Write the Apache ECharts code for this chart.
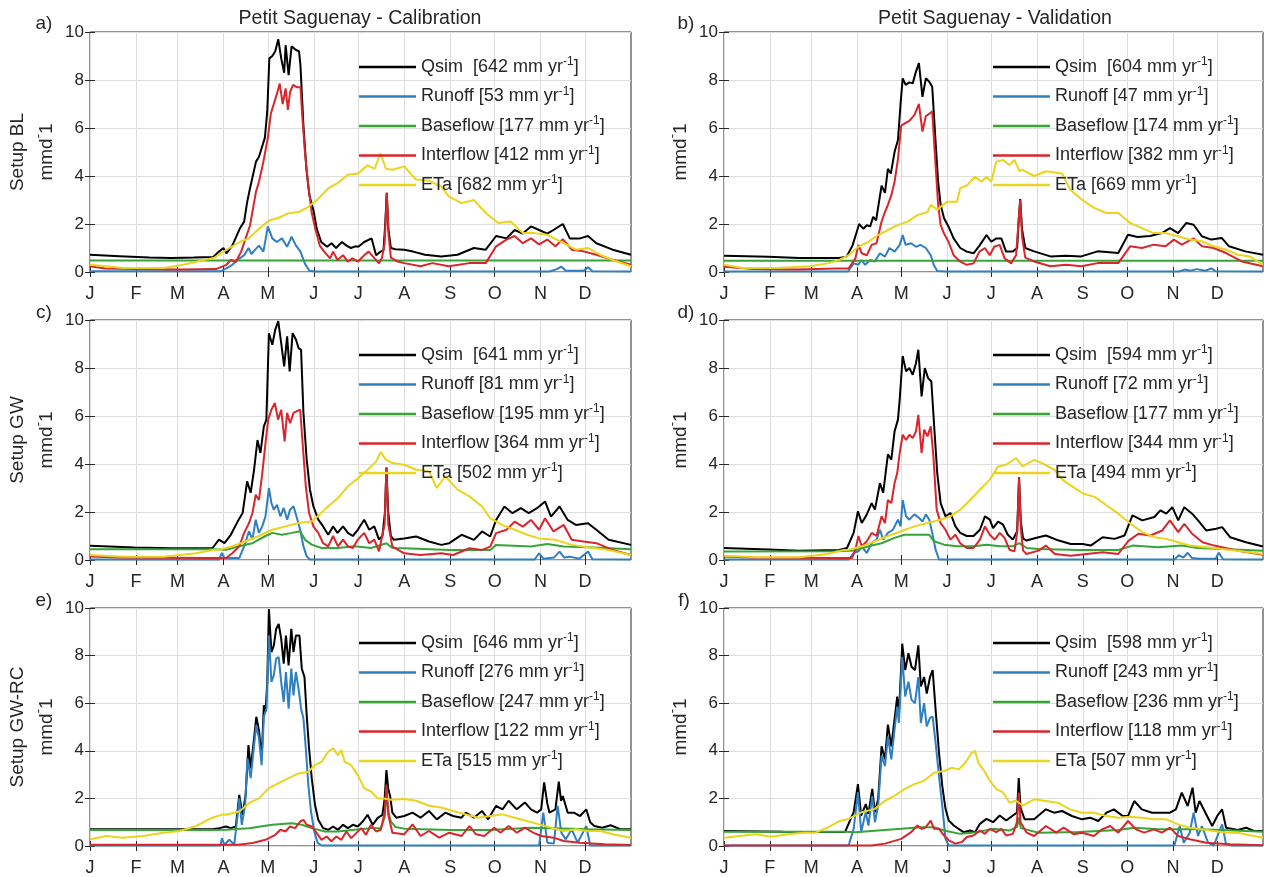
<!DOCTYPE html>
<html><head><meta charset="utf-8">
<script src="https://cdn.jsdelivr.net/npm/echarts@6/dist/echarts.min.js"></script>
<style>html,body{margin:0;padding:0;background:#fff}#c{width:1264px;height:877px}</style>
</head><body><div id="c"></div>
<script>
// ---------- axis / label data ----------
const months = ['J','F','M','A','M','J','J','A','S','O','N','D'];
const monthStarts = [0,31,59,90,120,151,181,212,243,273,304,334];
const componentNames = ['Qsim','Runoff','Baseflow','Interflow','ETa'];
const componentLabels = ['Qsim  ','Runoff ','Baseflow ','Interflow ','ETa '];
const panelLetters = ['a)','b)','c)','d)','e)','f)'];
const columnTitles = ['Petit Saguenay - Calibration','Petit Saguenay - Validation'];
const setupNames = ['Setup BL','Setup GW','Setup GW-RC'];

const totalsA = [642,53,177,412,682];
const totalsB = [604,47,174,382,669];
const totalsC = [641,81,195,364,502];
const totalsD = [594,72,177,344,494];
const totalsE = [646,276,247,122,515];
const totalsF = [598,243,236,118,507];

// ---------- series data: [day of year, mm/d] ----------
const qsimA = [[0,0.72],[20,0.66],[40,0.6],[55,0.58],[70,0.6],[83,0.62],[87,0.85],[90,1.0],[92,0.78],[96,1.1],[101,1.8],[104,2.1],[106,2.9],[108,3.5],[112,4.6],[114,4.8],[116,5.2],[118,5.6],[119.6,6.7],[121,8.9],[123,9.0],[125,9.2],[127,9.7],[129,8.9],[131,8.3],[132,9.45],[134,8.2],[136,9.4],[137,9.45],[139,9.25],[141,9.2],[142,8.6],[144,6.1],[146,4.3],[148,3.2],[151,2.5],[153,1.8],[156,1.25],[160,1.05],[163,1.2],[166,1.0],[170,1.25],[173,1.1],[176,1.0],[179,1.07],[181,1.05],[185,1.25],[190,1.4],[193,0.7],[196,0.85],[198,0.9],[199.2,2.0],[200.2,3.3],[201.3,1.8],[203,1.0],[206,0.95],[212,0.93],[218,0.85],[226,0.72],[237,0.65],[248,0.72],[259,1.0],[267,0.93],[274,1.5],[281,1.4],[286.5,1.75],[292,1.6],[297.5,1.9],[303,1.75],[308.5,1.6],[312.7,1.75],[319,2.0],[323.7,1.4],[330.6,1.4],[336,1.5],[341.6,1.2],[352.6,0.93],[365,0.72]];
const runoffA = [[0,0.03],[88,0.03],[92,0.15],[96,0.3],[101,0.57],[104,0.7],[107,1.0],[109,0.75],[111,0.9],[114,1.1],[117,0.85],[120,1.9],[123,1.4],[126,1.25],[129.5,1.4],[133,1.05],[136,1.47],[139,1.1],[142,0.85],[145,0.35],[148,0.05],[152,0.02],[310,0.02],[315,0.12],[318,0.22],[321,0.05],[333,0.05],[336,0.2],[339,0.03],[365,0.02]];
const baseA = [[0,0.48],[365,0.48]];
const interA = [[0,0.24],[10,0.15],[30,0.12],[60,0.1],[85,0.12],[92,0.3],[95,0.5],[98.4,0.43],[102,0.85],[105,1.4],[108,1.95],[112,3.35],[114,3.76],[117,4.6],[120,5.6],[122,6.6],[124,7.0],[126,7.4],[128,7.85],[130,7.0],[132,7.65],[133.5,6.75],[135,7.5],[137,7.8],[139.5,7.7],[142,7.7],[143,6.7],[145,5.0],[147,3.76],[149.5,2.5],[152,1.8],[155,1.1],[158,0.85],[162,0.57],[164,0.85],[167,0.5],[170.7,0.7],[174,0.43],[177,0.57],[180.7,0.43],[185,0.7],[188,0.85],[192,0.57],[195,0.36],[197,0.6],[198.8,1.2],[200.2,3.3],[201.5,1.5],[203,0.6],[207,0.45],[212,0.37],[223,0.24],[231,0.37],[242,0.24],[256,0.37],[267,0.37],[274,1.07],[281,1.35],[286.5,1.5],[292,1.2],[297.5,1.4],[303,1.15],[308.5,1.35],[314,1.07],[319,1.37],[325,0.93],[333,0.86],[341.6,0.72],[352.6,0.51],[365,0.3]];
const etA = [[0,0.3],[11,0.24],[22,0.17],[50,0.17],[63,0.3],[77,0.5],[84,0.6],[90,0.85],[101,1.25],[107,1.4],[114,1.8],[121,2.15],[127,2.25],[134,2.45],[141,2.5],[147,2.7],[154,3.05],[161,3.5],[167,3.7],[174,4.05],[181,4.1],[187,4.45],[192,4.3],[196,4.95],[199.6,4.3],[204,4.26],[212,4.4],[220,3.85],[228.7,3.8],[237,3.57],[242,3.15],[250.7,2.87],[259,3.0],[267,2.46],[275.5,2.04],[283.8,2.1],[292,1.62],[300,1.62],[308.5,1.55],[319.6,1.2],[327.8,0.93],[336,1.0],[344,0.72],[352.6,0.5],[365,0.24]];

const qsimB = [[0,0.68],[30,0.64],[51,0.58],[78,0.58],[83,0.64],[87,1.1],[90,1.7],[91.5,2.0],[94.4,1.8],[96.7,1.95],[99,1.9],[101,2.3],[103,2.15],[106.7,3.6],[109,3.3],[111,4.3],[113,4.1],[115.5,5.0],[117.8,5.5],[119.5,6.95],[121,8.07],[123,7.8],[125.5,7.9],[127.8,7.86],[130,8.35],[132,8.7],[134.4,7.3],[136.7,8.07],[139,7.93],[141,7.72],[143,5.7],[145,3.76],[146.7,2.8],[149,2.24],[152,1.9],[155.5,1.4],[160,1.0],[164.4,0.85],[169,0.78],[173,1.1],[177.8,1.54],[181,1.26],[184.4,1.4],[187.8,1.4],[191,0.85],[195.5,0.85],[198.5,1.0],[199.6,2.2],[200.6,3.04],[201.8,1.8],[204,1.0],[210,0.86],[221,0.65],[231.6,0.68],[242,0.65],[253,0.86],[267,0.79],[273.6,1.55],[280,1.46],[288.5,1.5],[296.5,1.62],[302,1.83],[307.5,1.62],[313,2.04],[318,1.97],[323.6,1.49],[330,1.35],[337,1.42],[342,1.07],[353,0.86],[365,0.72]];
const runoffB = [[0,0.02],[84,0.02],[87.8,0.36],[91,0.3],[93,0.5],[95.6,0.3],[99,0.5],[102,0.43],[105.6,0.78],[109,0.64],[112,1.0],[115.5,0.85],[119,1.13],[121,1.54],[123,1.13],[126.7,1.2],[130,1.05],[133,1.13],[136.7,1.0],[140,0.7],[142,0.3],[144.4,0.04],[150,0.02],[308,0.02],[312,0.1],[316,0.05],[320,0.12],[326,0.05],[330,0.15],[333,0.03],[365,0.02]];
const baseB = [[0,0.47],[365,0.47]];
const interB = [[0,0.22],[20,0.12],[50,0.1],[75.6,0.15],[84.4,0.15],[89,0.57],[91,1.13],[93.3,0.78],[96.7,0.7],[100,1.13],[103.3,1.2],[106.7,2.1],[109,2.5],[111,2.8],[113.3,3.2],[115.5,3.76],[117.8,4.7],[120,6.1],[122.7,6.2],[125.5,6.3],[129,6.55],[132,7.0],[134.4,5.85],[136.7,6.5],[139.3,6.6],[141,6.7],[143,4.7],[145,2.8],[146.7,1.96],[149,1.6],[152,1.26],[155.5,0.7],[160,0.43],[164.4,0.3],[169,0.36],[173,0.85],[176.7,1.0],[180,0.7],[183,1.05],[186.7,1.13],[190,0.57],[194.4,0.36],[197.8,0.7],[199.6,2.2],[200.6,3.0],[201.8,1.5],[204,0.6],[210,0.44],[221,0.24],[231.6,0.3],[242,0.24],[253,0.37],[267,0.37],[275,1.07],[283,1.0],[291,1.14],[299,1.07],[304.6,1.35],[310,1.14],[318,1.4],[323.6,1.07],[331.5,1.0],[340,0.79],[350.6,0.44],[365,0.24]];
const etB = [[0,0.3],[12.6,0.17],[36.6,0.17],[58,0.24],[71,0.37],[78,0.5],[84.4,0.7],[91,1.05],[97.8,1.26],[104.4,1.54],[111,1.75],[117.8,1.96],[124.4,2.1],[131,2.37],[137.8,2.5],[140,2.8],[144.4,2.6],[151,2.93],[157.8,2.93],[160,3.5],[164.4,3.6],[170,3.97],[174.4,3.76],[177.8,3.97],[181,3.76],[184.4,4.6],[189,4.67],[193.3,4.46],[196.7,4.67],[200,4.2],[202,4.26],[210,4.0],[218,4.2],[229,4.1],[234.5,3.43],[242.6,3.0],[250.7,2.67],[258.8,2.46],[267,2.46],[275,2.04],[283,1.83],[291,1.62],[299,1.62],[307.5,1.49],[315.6,1.35],[323.6,1.28],[331.6,1.07],[340,0.93],[348,0.72],[356,0.65],[365,0.3]];

const qsimC = [[0,0.59],[30,0.52],[55,0.49],[82.6,0.49],[87,0.85],[90.7,0.7],[95,1.05],[99.6,1.6],[103,1.96],[106,3.28],[108.4,2.8],[110.7,3.76],[113,5.0],[115,4.46],[117.3,5.57],[119,5.85],[120.7,9.45],[123,8.97],[125,9.6],[127,9.95],[129,9.04],[131,8.07],[133,9.32],[134.7,7.86],[136.7,9.45],[139,9.18],[140.7,8.83],[142.4,8.76],[144,6.13],[146.2,4.18],[148.4,2.93],[150.7,2.24],[154,1.68],[157.3,1.4],[160.7,1.05],[164,1.4],[167,1.13],[170.7,1.4],[174,1.13],[177.3,1.0],[180.7,1.26],[185,1.68],[188.4,1.26],[191.8,1.4],[195,0.85],[197.3,1.0],[199,2.0],[200,3.85],[201.2,2.0],[203,1.0],[205,0.84],[212,0.9],[220,0.98],[228.7,0.77],[237,0.63],[242.4,0.7],[250.7,1.05],[259,0.84],[264.5,1.19],[270,0.98],[274,1.67],[279.6,2.23],[285,1.95],[290.7,2.16],[296,1.95],[301.6,2.16],[307,2.44],[311,1.81],[316.8,2.23],[322.3,1.67],[327.8,1.46],[336,1.53],[341.6,1.26],[349.9,0.84],[365,0.63]];
const runoffC = [[0,0.02],[87,0.02],[89,0.29],[90.7,0.08],[100.7,0.08],[104,0.57],[107.3,1.2],[109.6,0.85],[111.8,1.68],[114,1.13],[116.2,1.4],[118.4,1.82],[120.7,3.0],[122.4,2.37],[124,2.1],[126.2,2.3],[128.4,1.82],[130.7,2.17],[133,1.68],[135,2.1],[137.3,2.24],[139.6,1.75],[141.8,1.26],[144,0.57],[146.2,0.15],[148.4,0.02],[300,0.02],[303,0.28],[306,0.05],[313,0.1],[316.8,0.35],[320,0.1],[323.7,0.14],[330,0.05],[336,0.35],[339,0.03],[365,0.02]];
const baseC = [[0,0.45],[82.6,0.45],[91.8,0.43],[100.7,0.57],[109.6,0.7],[118.4,1.0],[123,1.13],[129.6,1.05],[136.2,1.13],[141.8,1.2],[145,0.85],[149.6,0.64],[156.2,0.5],[167.3,0.5],[178.4,0.57],[189.6,0.5],[200,0.7],[204,0.5],[212,0.49],[242.4,0.42],[270,0.42],[274,0.63],[297.5,0.56],[308.5,0.67],[319.6,0.56],[336,0.53],[365,0.45]];
const interC = [[0,0.15],[20,0.1],[78.4,0.08],[91.8,0.08],[96.2,0.29],[100.7,0.57],[104,1.13],[107.3,1.54],[109.6,1.96],[111.8,2.72],[114,2.5],[116.2,3.6],[118.4,4.87],[120.2,5.85],[122.4,6.26],[124.7,6.54],[126.9,5.85],[129,6.26],[131.3,4.94],[133,6.13],[135,5.7],[137.3,6.13],[139.6,6.2],[141.8,6.26],[143.6,4.74],[145.6,3.07],[147.8,1.96],[150.7,1.4],[154,1.13],[157.3,0.7],[160.7,0.57],[164,1.0],[167.3,0.57],[170.7,0.85],[174,0.57],[177.3,0.5],[180.7,0.85],[185,1.13],[188.4,0.7],[191.8,0.85],[195,0.36],[198.8,1.5],[200,3.85],[201.2,1.5],[204,0.56],[212,0.28],[223,0.21],[237,0.28],[245,0.21],[256,0.49],[264.5,0.42],[270,0.56],[274,1.12],[281,1.26],[286.5,1.6],[292,1.39],[297.5,1.67],[303,1.26],[307,1.74],[312.7,1.19],[319.6,1.46],[325,0.84],[333,0.77],[341.6,0.7],[352.6,0.42],[365,0.21]];
const etC = [[0,0.21],[22,0.14],[50,0.14],[71.6,0.28],[82.6,0.42],[87,0.43],[96.2,0.57],[105,0.78],[114,1.0],[123,1.26],[131.8,1.4],[140.7,1.54],[149.6,1.6],[155,1.9],[160.7,2.24],[167.3,2.58],[174,3.07],[180.7,3.4],[187.3,3.76],[193,4.1],[196.2,4.5],[199.6,4.18],[204,4.04],[212,3.97],[220,3.76],[228.7,3.7],[234,3.0],[239.7,3.49],[248,2.93],[256,2.65],[264.5,2.23],[270,1.74],[278,1.46],[286.5,1.26],[295,1.05],[303,0.9],[314,0.84],[325,0.63],[336,0.53],[349.9,0.42],[365,0.21]];

const qsimD = [[0,0.5],[30,0.44],[51,0.39],[78,0.42],[83.3,0.5],[87.8,1.13],[90.7,2.03],[93.3,1.54],[96.7,1.9],[100,2.37],[102.2,2.1],[105.6,3.2],[107.8,2.8],[111,4.4],[113.3,4.18],[115.5,5.36],[117.8,5.85],[119,6.7],[121,8.5],[123.3,7.86],[125.5,8.0],[127.8,7.72],[130,8.2],[131.6,8.76],[133.8,6.82],[136,8.0],[138.2,7.58],[140.4,7.44],[142.2,5.7],[144.4,3.62],[146.7,2.37],[150,1.82],[153.3,1.96],[156.7,1.4],[160,1.13],[164.4,1.0],[169,1.0],[173.3,1.26],[176.7,1.82],[180,1.68],[182.2,1.33],[185.6,1.6],[189,1.47],[192.2,1.05],[195.6,0.85],[198.5,1.2],[199.8,3.45],[201,1.6],[202.5,0.9],[204.8,0.81],[213,0.95],[218,1.02],[226.7,0.81],[234.8,0.67],[242.9,0.67],[248.3,0.6],[256.4,0.95],[264.5,0.88],[271.2,1.02],[276.6,1.86],[283.3,1.65],[291.4,1.79],[295.5,2.07],[299.5,1.93],[303.6,2.2],[307.6,1.65],[311.7,2.2],[317,1.93],[321,1.65],[326.5,1.23],[333.3,1.3],[337.3,1.37],[342.7,0.95],[353.5,0.74],[365,0.56]];
const runoffD = [[0,0.02],[84.4,0.02],[87.8,0.29],[91,0.36],[93.3,0.57],[96.7,0.29],[100,0.7],[103.3,0.85],[105.6,1.26],[107.8,0.85],[111,1.13],[114.4,1.26],[117.8,1.68],[119.6,1.4],[121,2.5],[123.3,1.82],[125.5,1.68],[128.9,1.9],[132.2,1.75],[134.4,1.6],[136.7,1.9],[139,1.68],[141,1.13],[143.3,0.43],[145.6,0.02],[305,0.02],[308,0.2],[311,0.1],[314,0.3],[317,0.08],[322,0.05],[333,0.05],[335,0.3],[338,0.03],[365,0.02]];
const baseD = [[0,0.35],[75.6,0.36],[89,0.4],[97.8,0.57],[106.7,0.7],[115.5,0.92],[122.2,1.05],[131,1.05],[139,1.05],[142.2,0.78],[149,0.64],[157.8,0.57],[169,0.57],[177.8,0.64],[186.7,0.57],[195.6,0.57],[200,0.7],[205,0.5],[213,0.46],[240,0.42],[267,0.42],[276.6,0.6],[294,0.53],[310,0.6],[321,0.5],[337,0.46],[365,0.39]];
const interD = [[0,0.15],[20,0.1],[75.6,0.08],[86.7,0.08],[89,0.43],[91,1.0],[93.3,0.57],[96.7,0.78],[100,1.13],[103.3,1.0],[106.7,1.82],[109,1.54],[111,2.5],[113.3,2.37],[115.5,3.2],[117.3,3.62],[119,4.46],[121,5.22],[123.3,5.0],[125.5,5.22],[127.8,5.08],[130,5.36],[131.6,6.05],[133.8,4.46],[135.6,5.43],[137.8,5.15],[140,5.57],[141.8,4.32],[144,2.1],[146.7,1.54],[150,1.26],[153.3,0.85],[156.7,1.05],[160,0.7],[164.4,0.5],[169,0.5],[173.3,0.85],[176.7,1.4],[180,1.05],[183.3,0.85],[186.7,1.13],[190,0.92],[193.3,0.43],[196.7,0.36],[198.6,1.2],[199.8,3.4],[201,1.3],[202.5,0.4],[204.8,0.25],[213,0.39],[218,0.6],[224,0.25],[234.8,0.18],[245.6,0.25],[256.4,0.32],[267,0.25],[274,0.81],[280.6,1.09],[288.7,1.02],[296.8,1.23],[302,1.65],[307.6,1.16],[311.7,1.51],[317,1.09],[324,0.74],[332,0.6],[337.3,0.53],[348,0.39],[365,0.22]];
const etD = [[0,0.18],[24,0.11],[51,0.11],[70,0.25],[81,0.42],[84.4,0.43],[93.3,0.57],[102.2,0.78],[111,1.0],[120,1.2],[128.9,1.4],[137.8,1.54],[146.7,1.68],[153.3,1.82],[160,2.1],[166.7,2.5],[173.3,2.93],[180,3.35],[185.6,3.9],[191,3.97],[197.8,4.25],[202.2,3.9],[210,4.17],[215.6,4.03],[224,3.75],[229.5,3.33],[236.3,3.05],[243,2.77],[251,2.63],[259,2.28],[267,1.93],[275.3,1.51],[283.3,1.16],[291.4,0.95],[299.5,0.88],[307.6,0.74],[315.7,0.6],[326.5,0.53],[337.3,0.46],[348,0.39],[365,0.25]];

const qsimE = [[0,0.7],[82.6,0.7],[87.3,0.75],[91.8,0.82],[95,0.75],[98.4,0.82],[100.7,2.15],[102.9,1.31],[105,2.15],[106.9,4.24],[108.4,3.26],[110.7,4.52],[112.2,5.43],[114,4.87],[115.8,3.68],[117.3,5.91],[118.4,5.63],[119.6,6.89],[120.7,9.96],[122.4,8.15],[124,8.42],[125.6,9.12],[127.3,9.33],[129,8.7],[130.7,7.66],[132.2,8.84],[134,7.59],[135.8,9.12],[137.3,8.15],[138.9,8.84],[141.3,8.84],[142.9,7.45],[144.7,7.1],[146.2,5.5],[147.8,4.1],[149.6,2.85],[151.8,1.73],[154,1.1],[157.3,0.75],[160.7,0.68],[164,0.82],[167.3,0.68],[170.7,0.89],[174,0.75],[177.3,0.89],[180.7,0.82],[184,1.03],[187.3,1.31],[190.7,0.89],[194,1.17],[197.3,1.31],[198.8,2.0],[200,3.19],[201.2,2.4],[202.5,2.1],[204,1.4],[206.6,1.19],[212,1.26],[217.6,1.4],[223,1.19],[228.7,1.47],[234,1.12],[239.7,1.4],[245,1.26],[250.7,1.19],[253.5,1.4],[259,1.19],[264.5,1.47],[268.6,1.12],[274,1.69],[278.3,1.54],[282.4,1.9],[287.9,1.54],[293.4,1.83],[297.5,1.54],[301.6,1.4],[304.4,1.54],[306.4,2.67],[308.5,1.8],[310,1.4],[314,1.54],[316.3,2.7],[317.8,1.9],[319,2.1],[322.3,1.4],[326.5,1.4],[330.6,1.26],[334.8,1.54],[336,1.61],[337.5,1.0],[340.2,0.84],[345.7,0.77],[351.3,0.87],[358,0.7],[365,0.7]];
const runoffE = [[0,0.02],[88,0.02],[89,0.33],[90.7,0.05],[94,0.26],[97.3,0.05],[99.6,1.31],[100.7,2.0],[102.4,0.89],[104.7,1.73],[106.2,3.68],[108.4,2.85],[110.7,4.24],[112.2,5.08],[114,4.52],[115.8,3.4],[117.3,5.43],[119.1,5.77],[120.7,8.84],[122.4,6.89],[124,7.17],[125.6,7.87],[127.3,7.94],[129,6.89],[130.7,6.05],[132.2,7.31],[134,5.77],[135.8,7.45],[137.3,6.33],[138.9,7.31],[140.7,6.61],[142.4,5.77],[144,5.36],[145.6,4.1],[147.3,2.57],[149.1,1.45],[151.3,0.61],[153.6,0.13],[156.2,0.02],[303,0.02],[305.8,1.4],[308.6,0.14],[313,0.1],[315.5,1.69],[318,0.56],[321,0.28],[325,0.7],[329,0.14],[334.8,0.84],[337.5,0.02],[365,0.02]];
const baseE = [[0,0.67],[82.6,0.67],[91.8,0.68],[107.3,0.75],[123,0.89],[136.2,0.96],[142.9,0.89],[149.6,0.75],[158.4,0.61],[167.3,0.61],[178.4,0.68],[189.6,0.75],[196.2,0.75],[198.8,1.2],[200,2.2],[201.5,1.4],[203,1.03],[206,0.8],[212,0.73],[242.4,0.67],[270,0.67],[297.5,0.77],[325,0.73],[336,0.7],[365,0.67]];
const interE = [[0,0.05],[100,0.05],[109.6,0.13],[118.4,0.26],[125,0.47],[128.5,0.68],[131.8,0.61],[135,0.82],[138.4,0.75],[141.8,1.03],[144,1.1],[146.2,0.89],[149.6,0.82],[153,0.54],[156.2,0.26],[159.6,0.4],[162.9,0.2],[166.2,0.4],[169.6,0.26],[173,0.61],[176.2,0.33],[179.6,0.54],[183,0.75],[186.2,0.47],[189.6,0.89],[193,0.61],[196.2,0.68],[198.8,1.4],[200,2.57],[201.3,1.3],[204,0.56],[212,0.49],[217.6,0.91],[223,0.42],[228.7,0.63],[235.5,0.35],[242.4,0.56],[250.7,0.42],[256,0.84],[260.4,0.49],[266,0.42],[272.7,0.77],[277,0.56],[282.4,0.84],[288,0.56],[293.4,0.77],[299,0.56],[304.4,0.42],[312.7,0.35],[319.6,0.21],[330.6,0.14],[347.2,0.07],[365,0.04]];
const etE = [[0,0.28],[11,0.42],[22,0.35],[35.8,0.42],[49.6,0.56],[60.6,0.63],[71.6,0.84],[82.6,1.19],[89.5,1.33],[91.8,1.31],[100.7,1.45],[107.3,1.8],[114,2.0],[120.7,2.43],[127.3,2.64],[134,2.85],[140.7,3.05],[147.3,3.12],[151.8,3.4],[156.2,3.54],[160.7,3.96],[164,4.1],[167.3,3.82],[169.6,4.03],[171.8,3.54],[176.2,3.4],[180.7,2.98],[185,2.43],[189.6,2.29],[194,2.0],[198.4,2.0],[203,1.94],[212,1.97],[220,1.9],[228.7,1.69],[237,1.62],[245,1.47],[253.5,1.33],[261.7,1.19],[270,1.26],[278.3,1.33],[286.5,1.19],[294.8,1.05],[303,0.91],[311.3,0.77],[319.6,0.63],[327.8,0.7],[336,0.63],[344.4,0.63],[352.6,0.49],[365,0.35]];

const qsimF = [[0,0.63],[40,0.6],[82,0.59],[83.3,0.58],[87.8,1.42],[90.7,2.6],[92.9,1.28],[96,1.76],[97.8,1.35],[100.4,2.4],[102.2,1.42],[104.4,1.97],[106.7,4.19],[109,3.64],[111,5.1],[113.3,4.19],[115.5,5.33],[117.3,6.28],[118.4,5.44],[120.7,8.5],[122.7,7.39],[124.9,8.1],[127,7.53],[129.3,7.39],[131.6,8.43],[133.3,6.7],[135.5,7.1],[137.3,6.4],[139.5,7.1],[141.3,7.39],[143.3,5.72],[145.6,3.92],[147.8,2.53],[150,1.56],[152.2,1.07],[155.6,0.86],[158.9,0.72],[162.2,0.58],[166.7,0.65],[170,0.58],[173.3,0.93],[177.8,1.14],[182.2,1.0],[186.7,1.28],[191.1,1.07],[195.6,1.28],[198.4,1.4],[199.6,2.85],[200.8,1.6],[203.6,1.12],[210,1.12],[218,1.54],[223.5,1.4],[229,1.47],[235.6,1.26],[242.4,1.12],[248,1.19],[253.4,1.05],[259,1.4],[264,1.54],[270,1.26],[273.6,1.26],[277.8,1.89],[283,1.54],[289.8,1.4],[295.2,1.4],[302,1.4],[306,1.54],[310,2.24],[314,1.68],[317.3,2.45],[319.4,1.4],[322,1.89],[326,1.4],[330.6,0.84],[334,1.26],[337.3,1.54],[340,0.77],[348,0.67],[353.5,0.77],[358.8,0.63],[365,0.63]];
const runoffF = [[0,0.02],[84.4,0.02],[87.8,0.72],[90.7,2.25],[92.9,0.58],[94.4,1.0],[96,1.42],[97.8,0.86],[100.4,2.11],[102.2,1.0],[104.4,1.7],[106.7,3.8],[109,3.36],[111,4.6],[113.3,3.64],[115.5,4.9],[117.3,5.86],[118.4,5.17],[120.7,7.95],[122.7,6.28],[124.9,6.9],[127,6.14],[129.3,6.0],[131.6,7.1],[133.3,5.17],[135.5,6.0],[137.3,5.03],[139.5,5.38],[141.3,5.44],[143.3,4.33],[145.6,2.94],[147.8,1.7],[150,0.3],[152.2,0.02],[305,0.02],[308.6,0.84],[311.3,0.14],[315.4,0.56],[318,1.4],[321,0.42],[323.6,0.84],[327.8,0.14],[331.6,0.02],[337.3,0.91],[340,0.07],[344,0.02],[365,0.02]];
const baseF = [[0,0.6],[82,0.6],[89,0.58],[104.4,0.65],[120,0.72],[133.3,0.79],[142.2,0.79],[149,0.65],[160,0.51],[171,0.58],[182.2,0.72],[193.3,0.65],[198.5,0.8],[199.6,1.2],[201,0.75],[213,0.56],[240,0.59],[267,0.67],[277.8,0.77],[294,0.7],[321,0.7],[337.3,0.67],[365,0.6]];
const interF = [[0,0.02],[100,0.02],[109,0.1],[120,0.3],[126.7,0.58],[131,0.86],[133.8,0.72],[136.7,0.79],[140,1.07],[142.2,0.72],[145.6,0.72],[149,0.44],[152.2,0.24],[156.7,0.1],[161.1,0.17],[164.4,0.38],[169,0.44],[173.3,0.65],[176.7,0.51],[180,0.72],[184.4,0.58],[187.8,0.72],[191.1,0.44],[195.6,0.51],[198.4,1.0],[199.6,2.25],[200.8,1.0],[205,0.56],[210,0.42],[218,0.84],[225,0.56],[230,0.77],[237,0.49],[242.4,0.56],[250.5,0.42],[256,0.7],[261.5,0.84],[267,0.56],[273.6,1.05],[279,0.7],[284.5,0.56],[291,0.7],[296.5,0.56],[302,0.77],[307.5,0.42],[315.5,0.28],[326.5,0.14],[342.7,0.07],[365,0.03]];
const etF = [[0,0.35],[10.5,0.42],[21.3,0.49],[32,0.39],[43,0.49],[54,0.56],[62,0.56],[70,0.77],[78.2,1.05],[84.4,1.14],[93.3,1.42],[102.2,1.56],[109,1.9],[115.5,2.11],[122.2,2.39],[128.9,2.6],[135.5,2.74],[142.2,3.08],[149,3.15],[154.4,3.29],[159,3.22],[163.3,3.5],[167.8,3.92],[170,4.0],[172.2,3.5],[175.5,3.22],[180,2.74],[184.4,2.39],[189,2.25],[193.3,1.83],[197.8,1.9],[202.2,1.7],[210,1.96],[218,1.89],[226,1.82],[234.3,1.54],[242.4,1.4],[250.5,1.4],[259,1.26],[267,1.19],[275,1.23],[283,1.19],[291,1.12],[299.5,1.12],[307.5,0.91],[315.5,0.77],[323.6,0.7],[331.6,0.63],[340,0.56],[348,0.56],[356,0.45],[365,0.35]];

// ---------- build ----------
const FONT = "'Liberation Sans', Arial, Helvetica, sans-serif";
const TXT = '#262626';
const GRIDC = '#dedede';
const colors = ['#000000','#2f7fc0','#36a436','#d8262c','#ead41c'];

const panels = [
  {totals: totalsA, data: [qsimA, runoffA, baseA, interA, etA], setup: setupNames[0]},
  {totals: totalsB, data: [qsimB, runoffB, baseB, interB, etB], setup: null},
  {totals: totalsC, data: [qsimC, runoffC, baseC, interC, etC], setup: setupNames[1]},
  {totals: totalsD, data: [qsimD, runoffD, baseD, interD, etD], setup: null},
  {totals: totalsE, data: [qsimE, runoffE, baseE, interE, etE], setup: setupNames[2]},
  {totals: totalsF, data: [qsimF, runoffF, baseF, interF, etF], setup: null}
];
const boxes = [
  {left: 90, top: 32, width: 541, height: 240, legLeft: 359, legTop: 56, lx: 44, ly: 24},
  {left: 724, top: 32, width: 539, height: 240, legLeft: 993, legTop: 56, lx: 686, ly: 24},
  {left: 90, top: 320, width: 541, height: 240, legLeft: 359, legTop: 344, lx: 44, ly: 313},
  {left: 724, top: 320, width: 539, height: 240, legLeft: 993, legTop: 344, lx: 686, ly: 313},
  {left: 90, top: 608, width: 541, height: 240, legLeft: 359, legTop: 632, lx: 44, ly: 601},
  {left: 724, top: 608, width: 539, height: 240, legLeft: 993, legTop: 632, lx: 684, ly: 601}
];

const grid = [], xAxis = [], yAxis = [], series = [], legend = [], graphic = [];
const labelByName = {};
const tickStyle = {show: true, inside: true, length: 5, lineStyle: {color: TXT, width: 1}};

boxes.forEach((b, i) => {
  grid.push({left: b.left, top: b.top, width: b.width, height: b.height, show: true,
    borderColor: TXT, borderWidth: 1, backgroundColor: 'rgba(0,0,0,0)'});
});
boxes.forEach((b, i) => {
  xAxis.push({gridIndex: i, type: 'value', min: 0, max: 365, position: 'bottom',
    axisLine: {show: false},
    axisTick: Object.assign({customValues: monthStarts}, tickStyle),
    axisLabel: {customValues: monthStarts, formatter: v => months[monthStarts.indexOf(v)] || '',
      fontSize: 18, fontFamily: FONT, color: TXT, margin: 13},
    splitLine: {show: true, lineStyle: {color: GRIDC, width: 1}}});
});
boxes.forEach((b, i) => {
  xAxis.push({gridIndex: i, type: 'value', min: 0, max: 365, position: 'top',
    axisLine: {show: false},
    axisTick: Object.assign({customValues: monthStarts}, tickStyle),
    axisLabel: {show: false}, splitLine: {show: false}});
});
boxes.forEach((b, i) => {
  const p = panels[i];
  const nm = p.setup ? (p.setup + '\nmmd{s|-}1') : 'mmd{s|-}1';
  yAxis.push({gridIndex: i, type: 'value', min: 0, max: 10, interval: 2, position: 'left',
    axisLine: {show: false}, axisTick: tickStyle,
    axisLabel: {fontSize: 17, fontFamily: FONT, color: TXT, margin: 6},
    splitLine: {show: true, lineStyle: {color: GRIDC, width: 1}},
    name: nm, nameLocation: 'middle', nameRotate: 90, nameGap: 24,
    nameTextStyle: {fontSize: 19, fontFamily: FONT, color: TXT, lineHeight: 29,
      rich: {s: {fontSize: 13, fontFamily: FONT, color: TXT, verticalAlign: 'top', lineHeight: 17}}}});
});
boxes.forEach((b, i) => {
  yAxis.push({gridIndex: i, type: 'value', min: 0, max: 10, interval: 2, position: 'right',
    axisLine: {show: false}, axisTick: tickStyle, axisLabel: {show: false}, splitLine: {show: false}});
});

panels.forEach((p, i) => {
  const names = [];
  componentNames.forEach((cn, k) => {
    const name = cn + '_' + i;
    names.push(name);
    labelByName[name] = componentLabels[k] + '[' + p.totals[k] + ' mm yr{sup|-1}]';
    series.push({type: 'line', name: name, xAxisIndex: i, yAxisIndex: i, data: p.data[k],
      symbol: 'none', showSymbol: false, animation: false, silent: true,
      lineStyle: {color: colors[k], width: 2}, itemStyle: {color: colors[k]}});
  });
  const b = boxes[i];
  legend.push({data: names, orient: 'vertical', left: b.legLeft, top: b.legTop,
    itemWidth: 57, itemHeight: 2.5, itemGap: 7.5, icon: 'rect', selectedMode: false,
    padding: 0, backgroundColor: 'rgba(0,0,0,0)',
    formatter: n => labelByName[n],
    textStyle: {fontSize: 18, fontFamily: FONT, color: TXT, lineHeight: 22,
      rich: {sup: {fontSize: 12, fontFamily: FONT, color: TXT, verticalAlign: 'top', lineHeight: 13}}}});
  graphic.push({type: 'text', x: b.lx, y: b.ly, silent: true,
    style: {text: panelLetters[i], fontSize: 19, fontFamily: FONT, fill: TXT, align: 'center', verticalAlign: 'middle'}});
});
graphic.push({type: 'text', x: 360, y: 19, silent: true,
  style: {text: columnTitles[0], fontSize: 19.5, fontFamily: FONT, fill: TXT, align: 'center', verticalAlign: 'middle'}});
graphic.push({type: 'text', x: 995, y: 19, silent: true,
  style: {text: columnTitles[1], fontSize: 19.5, fontFamily: FONT, fill: TXT, align: 'center', verticalAlign: 'middle'}});

const chart = echarts.init(document.getElementById('c'), null, {renderer: 'canvas'});
chart.setOption({backgroundColor: '#ffffff', animation: false, grid, xAxis, yAxis, series, legend, graphic});
</script></body></html>
